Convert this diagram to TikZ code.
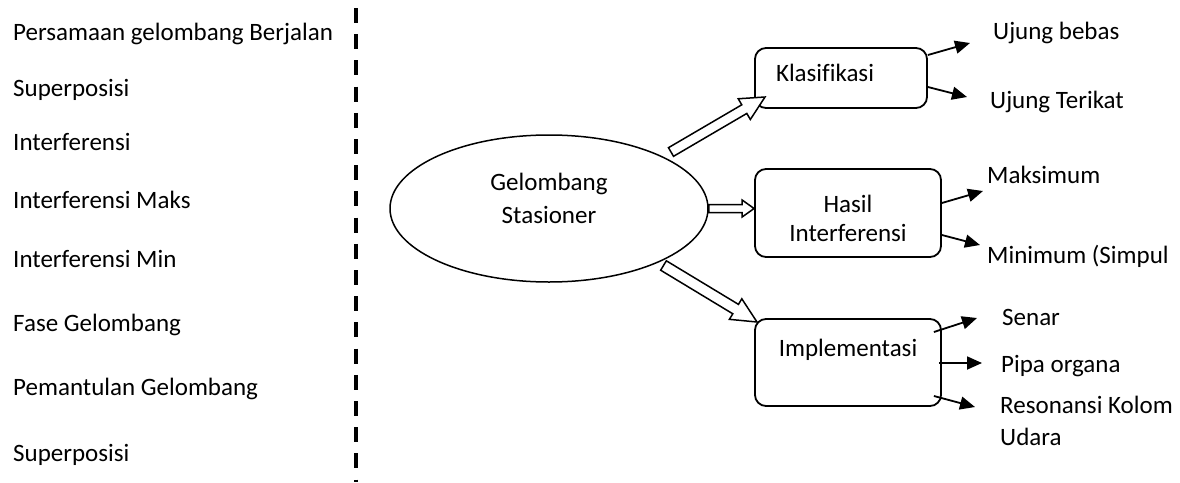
\documentclass[tikz,border=0pt]{standalone}
\usepackage{fontspec}
\setmainfont{Carlito}[Ligatures=NoCommon]
\usetikzlibrary{arrows.meta,calc,shapes.geometric}
\tikzset{
  txt/.style={inner sep=0pt, anchor=base west, font=\fontsize{25pt}{29pt}\selectfont},
  box/.style={draw, line width=1.8pt, rounded corners=11pt, font=\fontsize{25pt}{29pt}\selectfont},
  sarr/.style={line width=1.8pt, -{Triangle[length=15pt,width=13pt]}},
  hollowline/.style={draw, line width=1.5pt, fill=white, line join=miter},
  hollow/.style n args={3}{to path={
    ($(\tikztotarget)!#2!(\tikztostart)$) coordinate (hb)
    ($(\tikztostart)!#1!90:(\tikztotarget)$) -- ($(hb)!#1!-90:(\tikztostart)$)
    -- ($(hb)!#3!-90:(\tikztostart)$) -- (\tikztotarget)
    -- ($(hb)!#3!90:(\tikztostart)$) -- ($(hb)!#1!90:(\tikztostart)$)
    -- ($(\tikztostart)!#1!-90:(\tikztotarget)$) -- cycle}}
}
\begin{document}
\begin{tikzpicture}[x=1pt,y=-1pt]
\useasboundingbox (0,0) rectangle (1180,482);

% left column
\node[txt] (l1) at (13,40) {Persamaan gelombang Berjalan};
\node[txt] (l2) at (13,96) {Superposisi};
\node[txt] (l3) at (13,150) {Interferensi};
\node[txt] (l4) at (13,208) {Interferensi Maks};
\node[txt] (l5) at (13,267) {Interferensi Min};
\node[txt] (l6) at (13,331) {Fase Gelombang};
\node[txt] (l7) at (13,395) {Pemantulan Gelombang};
\node[txt] (l8) at (13,461) {Superposisi};

% separator
\coordinate (sepTop) at (356,8);
\coordinate (sepBot) at (356,482);
\draw[line width=4pt, dash pattern=on 15pt off 11.2pt] (sepTop) -- (sepBot);

% main ellipse
\node[ellipse, draw, line width=1.5pt, minimum width=318pt, minimum height=147pt,
      inner sep=0pt, align=center, font=\fontsize{25pt}{33pt}\selectfont]
  (gs) at (549,208.5) {\rule{0pt}{20pt}Gelombang\\Stasioner\rule[-24pt]{0pt}{24pt}};

% boxes
\node[box, minimum width=172pt, minimum height=60pt, text height=17pt, text depth=11pt]
  (kl) at (841,78) {Klasifikasi\kern32pt};
\node[box, minimum width=186pt, minimum height=88pt, align=center]
  (hi) at (848,213) {\rule{0pt}{29pt}Hasil\\Interferensi};
\node[box, minimum width=186pt, minimum height=87pt, text height=17pt, text depth=30pt]
  (im) at (848,362.5) {Implementasi};

% hollow arrows
\coordinate (a1t) at (671,152);
\coordinate (a1h) at (765,97);
\coordinate (a2t) at (gs.east);
\coordinate (a2h) at (gs.east -| hi.west);
\coordinate (a3t) at (663.5,265.5);
\coordinate (a3h) at (757,322);
\path[hollowline] (a1t) to[hollow={5pt}{24pt}{12pt}] (a1h);
\path[hollowline] (a2t) to[hollow={4pt}{12pt}{8.5pt}] (a2h);
\path[hollowline] (a3t) to[hollow={5.5pt}{25pt}{12pt}] (a3h);

% right labels
\node[txt] (r1) at (993,39) {Ujung bebas};
\node[txt] (r2) at (990,108) {Ujung Terikat};
\node[txt] (r3) at (987,183) {Maksimum};
\node[txt] (r4) at (987,263) {Minimum (Simpul};
\node[txt] (r5) at (1002,325) {Senar};
\node[txt] (r6) at (1001,372) {Pipa organa};
\node[inner sep=0pt, anchor=north west, align=left, font=\fontsize{25pt}{32pt}\selectfont]
  (r7) at (1000,393) {\rule{0pt}{20pt}Resonansi Kolom\\Udara};

% small arrows
\coordinate (k1e) at (970,43);
\coordinate (k2e) at (967,97);
\coordinate (h1e) at (983,191);
\coordinate (h2e) at (980,245);
\coordinate (i1e) at (977,318);
\coordinate (i2e) at (982,363);
\coordinate (i3e) at (975,407);
\draw[sarr] ([yshift=23pt]kl.east) -- (k1e);
\draw[sarr] ([yshift=-9pt]kl.east) -- (k2e);
\draw[sarr] ([yshift=10pt]hi.east) -- (h1e);
\draw[sarr] ([yshift=-22pt]hi.east) -- (h2e);
\draw[sarr] ([xshift=-8pt,yshift=30.5pt]im.east) -- (i1e);
\draw[sarr] ([xshift=-3pt,yshift=-0.5pt]im.east) -- (i2e);
\draw[sarr] ([xshift=-8pt,yshift=-33.5pt]im.east) -- (i3e);
\end{tikzpicture}
\end{document}
